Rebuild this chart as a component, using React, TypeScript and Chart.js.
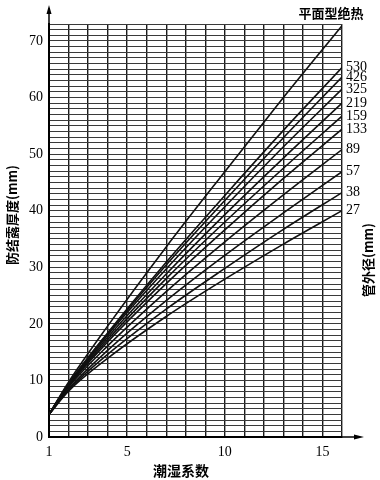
import { useEffect, useRef } from 'react';
import { Chart, registerables } from 'chart.js';

Chart.register(...registerables);

// Humidity coefficient (x) sample points
const xs = [1, 2, 4, 7, 10, 13, 16];

// Anti-condensation thickness (mm) per pipe outer diameter
const flatPlane = [4, 9.7, 19.6, 33.6, 46.9, 60.0, 72.7];
const d530 = [4, 9.4, 18.4, 30.9, 42.7, 54.2, 65.3];
const d426 = [4, 9.4, 18.2, 30.4, 41.8, 52.9, 63.6];
const d325 = [4, 9.3, 18.0, 29.7, 40.7, 51.3, 61.5];
const d219 = [4, 9.2, 17.6, 28.8, 39.3, 49.3, 59.0];
const d159 = [4, 9.1, 17.2, 28.0, 38.0, 47.5, 56.7];
const d133 = [4, 9.0, 16.8, 27.1, 36.6, 45.7, 54.4];
const d89 = [4, 8.8, 16.1, 25.7, 34.5, 42.8, 50.8];
const d57 = [4, 8.5, 15.3, 24.1, 32.1, 39.6, 46.9];
const d38 = [4, 8.3, 14.6, 22.6, 29.8, 36.7, 43.2];
const d27 = [4, 8.1, 13.9, 21.3, 27.9, 34.1, 40.0];

const seriesLabels = ['平面型绝热', '530', '426', '325', '219', '159', '133', '89', '57', '38', '27'];
const seriesData = [flatPlane, d530, d426, d325, d219, d159, d133, d89, d57, d38, d27];

const xTickLabels = [1, 5, 10, 15];
const yTickLabels = [0, 10, 20, 30, 40, 50, 60, 70];

const xTitle = '潮湿系数';
const yTitle = '防结露厚度(mm)';
const rightTitle = '管外径(mm)';

const SERIF = '"Liberation Serif", "DejaVu Serif", serif';
const CJK = '"Noto Sans CJK SC", sans-serif';

const annotatePlugin = {
  id: 'annotate',
  afterDraw(chart: any) {
    const ctx = chart.ctx;
    const { left, right, top, bottom } = chart.chartArea;
    const ys = chart.scales.y;
    ctx.save();
    ctx.strokeStyle = '#000';
    ctx.fillStyle = '#000';
    // y axis arrow
    ctx.lineWidth = 1.5;
    ctx.beginPath();
    ctx.moveTo(left, top);
    ctx.lineTo(left, top - 16);
    ctx.stroke();
    ctx.beginPath();
    ctx.moveTo(left, top - 19);
    ctx.lineTo(left - 2.5, top - 10);
    ctx.lineTo(left + 2.5, top - 10);
    ctx.closePath();
    ctx.fill();
    // x axis arrow
    ctx.beginPath();
    ctx.moveTo(right, bottom);
    ctx.lineTo(right + 18, bottom);
    ctx.stroke();
    ctx.beginPath();
    ctx.moveTo(right + 22, bottom);
    ctx.lineTo(right + 12, bottom - 2.5);
    ctx.lineTo(right + 12, bottom + 2.5);
    ctx.closePath();
    ctx.fill();

    // right-side series labels
    ctx.font = `14px ${SERIF}`;
    ctx.textAlign = 'left';
    ctx.textBaseline = 'middle';
    for (let i = 1; i < seriesLabels.length; i++) {
      const arr = seriesData[i];
      const py = ys.getPixelForValue(arr[arr.length - 1]);
      ctx.fillText(seriesLabels[i], right + 4, py);
    }
    // flat-plane label
    ctx.font = `bold 13px ${CJK}`;
    ctx.textAlign = 'center';
    ctx.fillText(seriesLabels[0], 331, 13);

    // x title
    ctx.font = `bold 14px ${CJK}`;
    ctx.fillText(xTitle, 181, 471);

    // y title
    ctx.save();
    ctx.translate(12, 215);
    ctx.rotate(-Math.PI / 2);
    ctx.font = `bold 13px ${CJK}`;
    ctx.fillText(yTitle, 0, 0);
    ctx.restore();

    // right title
    ctx.save();
    ctx.translate(368, 260);
    ctx.rotate(-Math.PI / 2);
    ctx.font = `bold 13px ${CJK}`;
    ctx.fillText(rightTitle, 0, 0);
    ctx.restore();

    ctx.restore();
  },
};

export default function App() {
  const ref = useRef<HTMLCanvasElement | null>(null);
  useEffect(() => {
    if (!ref.current) return;
    const chart = new Chart(ref.current, {
      type: 'line',
      data: {
        datasets: seriesData.map((arr, i) => ({
          label: seriesLabels[i],
          data: arr.map((v, j) => ({ x: xs[j], y: v })),
          borderColor: '#111',
          borderWidth: 1.6,
          pointRadius: 0,
          cubicInterpolationMode: 'monotone' as const,
          fill: false,
        })),
      },
      options: {
        animation: false,
        responsive: false,
        devicePixelRatio: 1,
        layout: { padding: { top: 24, right: 38, left: 0, bottom: 0 } },
        plugins: { legend: { display: false }, tooltip: { enabled: false } },
        scales: {
          x: {
            type: 'linear',
            min: 1,
            max: 16,
            afterFit: (axis: any) => {
              axis.height = 43;
            },
            ticks: {
              stepSize: 1,
              autoSkip: false,
              maxRotation: 0,
              padding: 7,
              color: '#000',
              font: { family: SERIF, size: 14 },
              callback: (v: any) => (xTickLabels.includes(Number(v)) ? String(v) : ''),
            },
            grid: { color: '#1a1a1a', lineWidth: 1.4, drawTicks: false },
            border: { display: true, color: '#000', width: 2 },
          },
          y: {
            type: 'linear',
            min: 0,
            max: 73,
            afterFit: (axis: any) => {
              axis.width = 49;
            },
            ticks: {
              stepSize: 1,
              autoSkip: false,
              padding: 6,
              color: '#000',
              font: { family: SERIF, size: 14 },
              callback: (v: any) => (yTickLabels.includes(Number(v)) ? String(v) : ''),
            },
            grid: { color: '#3a3a3a', lineWidth: 1, drawTicks: false },
            border: { display: true, color: '#000', width: 2 },
          },
        },
      },
      plugins: [annotatePlugin],
    });
    return () => chart.destroy();
  }, []);
  return (
    <div style={{ position: 'absolute', left: 0, top: 0, width: 380, height: 480, background: '#fff' }}>
      <canvas ref={ref} width={380} height={480} style={{ width: 380, height: 480, display: 'block' }} />
    </div>
  );
}
